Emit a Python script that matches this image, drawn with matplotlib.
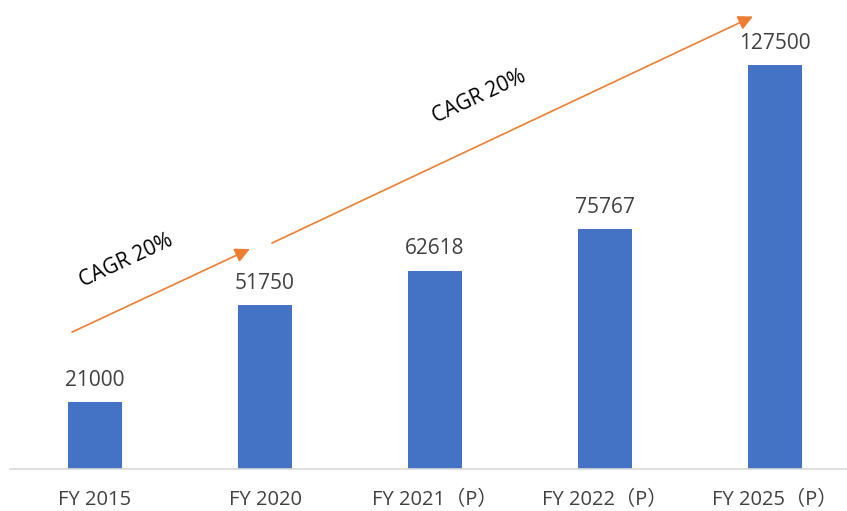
import matplotlib
matplotlib.use("Agg")
import matplotlib.pyplot as plt

categories = ["FY 2015", "FY 2020", "FY 2021（P）", "FY 2022（P）", "FY 2025（P）"]
values = [21000, 51750, 62618, 75767, 127500]
cagr_labels = ["CAGR 20%", "CAGR 20%"]

plt.rcParams['font.family'] = ['Open Sans', 'Noto Sans CJK SC', 'DejaVu Sans']

W, H = 847, 511
fig = plt.figure(figsize=(W / 100, H / 100), dpi=100)
ax = fig.add_axes([10 / W, 42 / H, 837 / W, 469 / H])

x = list(range(len(categories)))
bars = ax.bar(x, values, width=0.318, color="#4472C4", zorder=2)
ax.set_xlim(-0.5, -0.5 + 837 / 170)
ax.set_ylim(0, 148000)

for xi, v in zip(x, values):
    ax.annotate(f"{v}", (xi, v), xytext=(0, 8), textcoords="offset points",
                ha="center", va="bottom", fontsize=15, color="#404040")

ax.set_xticks(x)
ax.set_xticklabels(categories, fontsize=14.5, color="#404040")
ax.tick_params(axis="x", length=0, pad=15)
ax.set_yticks([])
for s in ["top", "right", "left"]:
    ax.spines[s].set_visible(False)
ax.spines["bottom"].set_color("#D9D9D9")
ax.spines["bottom"].set_linewidth(1.2)

orange = "#ED7D31"
arrows = [((-0.135, 43200), (0.91, 69400)), ((1.041, 71300), (3.87, 142800))]
for (s, e) in arrows:
    ax.annotate("", xy=e, xytext=s,
                arrowprops=dict(arrowstyle="-|>", color=orange, lw=1.2,
                                mutation_scale=22, shrinkA=0, shrinkB=0))

text_pos = [(0.182, 65600), (2.259, 117400)]
for (tx, ty), lab in zip(text_pos, cagr_labels):
    ax.text(tx, ty, lab, rotation=25, rotation_mode="anchor", ha="center",
            va="center", fontsize=15, color="black")

fig.savefig("out.png", dpi=100)
